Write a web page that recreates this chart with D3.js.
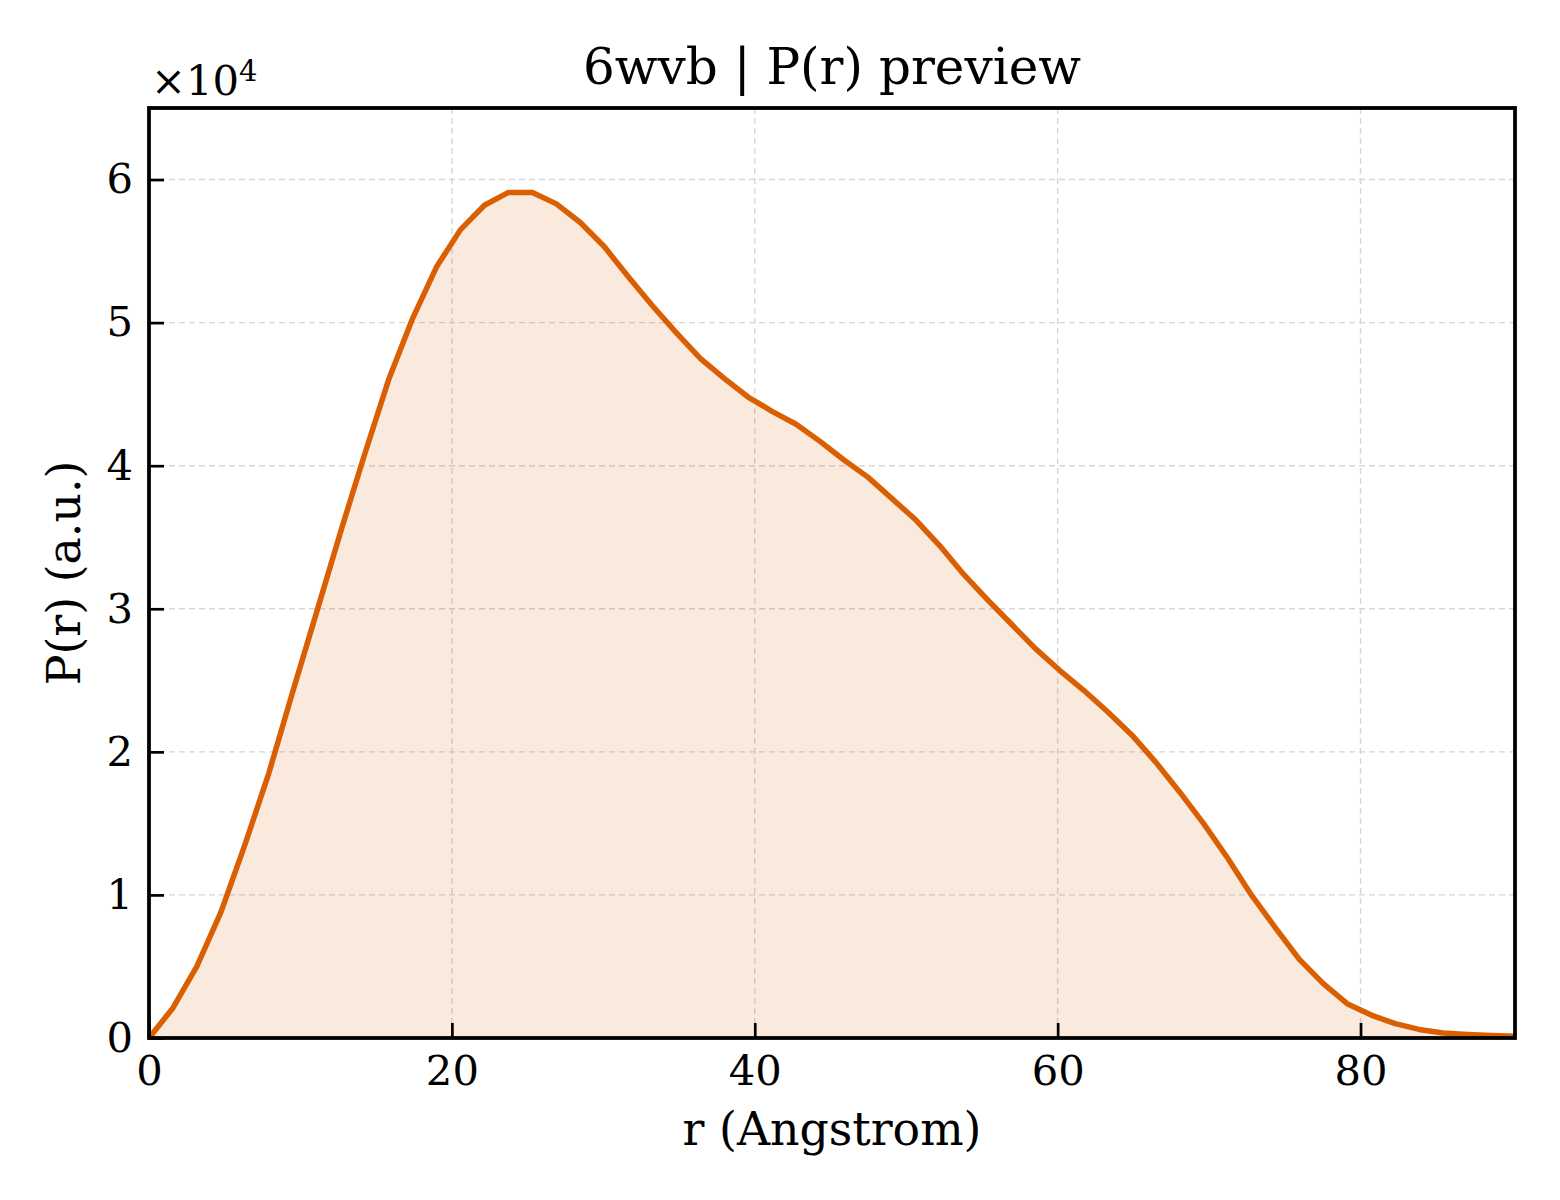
<!DOCTYPE html>
<html lang="en">
<head>
    <meta charset="UTF-8">
    <title>6wvb | P(r) preview</title>
    <script src="https://cdn.jsdelivr.net/npm/d3@7"></script>
    <style>
      body { margin: 0; background: #fff; }
      svg text { font-family: 'DejaVu Serif', serif; fill: #000; }
    </style>
</head>
<body>
    <svg id="chart"></svg>
    <script>

    // r in Angstrom, P(r) in a.u.
    const rValues = [
        0, 1.58, 3.16, 4.75, 6.33, 7.91, 9.49, 11.08, 12.66, 14.24,
        15.82, 17.41, 18.99, 20.57, 22.15, 23.74, 25.32, 26.90, 28.48, 30.07,
        31.65, 33.23, 34.81, 36.40, 37.98, 39.56, 41.14, 42.73, 44.31, 45.89,
        47.47, 49.06, 50.64, 52.22, 53.80, 55.39, 56.97, 58.55, 60.13, 61.72,
        63.30, 64.88, 66.46, 68.05, 69.63, 71.21, 72.79, 74.38, 75.96, 77.54,
        79.12, 80.71, 82.29, 83.87, 85.45, 87.04, 88.62, 90.20
    ];
    const pValues = [
        0, 2100, 5000, 8800, 13500, 18500, 24200, 29800, 35400, 40800,
        46000, 50300, 53900, 56500, 58200, 59100, 59100, 58300, 57000, 55300,
        53200, 51200, 49300, 47500, 46100, 44800, 43800, 42900, 41700, 40400,
        39200, 37700, 36200, 34400, 32400, 30600, 28900, 27200, 25700, 24300,
        22800, 21200, 19300, 17200, 15000, 12600, 10000, 7700, 5500, 3800,
        2400, 1600, 1000, 600, 350, 250, 180, 120
    ];
    const xTicks = [0, 20, 40, 60, 80];
    const yTicks = [0, 10000, 20000, 30000, 40000, 50000, 60000];

    const W = 1560, H = 1200;
    const margin = { top: 108, right: 45, bottom: 162, left: 149 };
    const width = W - margin.left - margin.right;
    const height = H - margin.top - margin.bottom;

    const svg = d3.select('#chart').attr('width', W).attr('height', H);
    const g = svg.append('g').attr('transform', `translate(${margin.left},${margin.top})`);

    const x = d3.scaleLinear().domain([0, 90.2]).range([0, width]);
    const y = d3.scaleLinear().domain([0, 65000]).range([height, 0]);

    const data = rValues.map((r, i) => ({ r: r, p: pValues[i] }));

    // grid
    g.append('g').selectAll('line').data(xTicks.filter(d => d > 0)).enter().append('line')
        .attr('x1', d => x(d)).attr('x2', d => x(d))
        .attr('y1', 0).attr('y2', height)
        .attr('stroke', '#d6d6d6').attr('stroke-width', 1.4).attr('stroke-dasharray', '6,4');
    g.append('g').selectAll('line').data(yTicks.filter(d => d > 0)).enter().append('line')
        .attr('x1', 0).attr('x2', width)
        .attr('y1', d => y(d)).attr('y2', d => y(d))
        .attr('stroke', '#d6d6d6').attr('stroke-width', 1.4).attr('stroke-dasharray', '6,4');

    // fill + line
    g.append('path').datum(data)
        .attr('d', d3.area().x(d => x(d.r)).y0(y(0)).y1(d => y(d.p)))
        .attr('fill', '#d95f02').attr('fill-opacity', 0.13);
    g.append('path').datum(data)
        .attr('d', d3.line().x(d => x(d.r)).y(d => y(d.p)))
        .attr('fill', 'none').attr('stroke', '#d95f02')
        .attr('stroke-width', 5.5).attr('stroke-linejoin', 'round');

    // axes with inward ticks
    const xAxis = g.append('g').attr('transform', `translate(0,${height})`)
        .call(d3.axisBottom(x).tickValues(xTicks).tickSize(-15).tickPadding(17));
    const yAxis = g.append('g')
        .call(d3.axisLeft(y).tickValues(yTicks).tickSize(-15).tickPadding(16)
            .tickFormat(d => d / 10000));
    [xAxis, yAxis].forEach(a => {
        a.select('.domain').remove();
        a.selectAll('.tick line').attr('stroke', '#000').attr('stroke-width', 2.7);
        a.selectAll('.tick text').style('font-size', '41.7px').style('font-family', "'DejaVu Serif', serif");
    });
    xAxis.selectAll('.tick text').attr('dy', '0.71em');

    // frame
    g.append('rect').attr('width', width).attr('height', height)
        .attr('fill', 'none').attr('stroke', '#000').attr('stroke-width', 3.8);

    // offset text
    const off = svg.append('text').attr('x', 151).attr('y', 95).style('font-size', '41.7px');
    off.append('tspan').text('\u00d710');
    off.append('tspan').attr('dy', -14).style('font-size', '29px').text('4');

    // title and labels
    svg.append('text').attr('x', margin.left + width / 2).attr('y', 84)
        .attr('text-anchor', 'middle').style('font-size', '50px').text('6wvb | P(r) preview');
    svg.append('text').attr('x', margin.left + width / 2).attr('y', 1145)
        .attr('text-anchor', 'middle').style('font-size', '45.8px').text('r (Angstrom)');
    svg.append('text').attr('transform', `translate(80,${margin.top + height / 2}) rotate(-90)`)
        .attr('text-anchor', 'middle').style('font-size', '45.8px').text('P(r) (a.u.)');

    </script>
</body>
</html>
